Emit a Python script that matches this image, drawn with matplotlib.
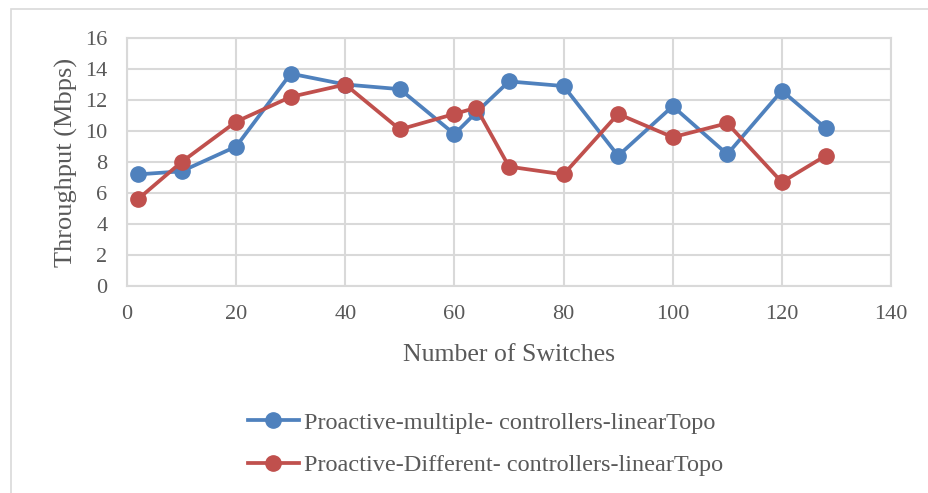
import matplotlib
matplotlib.use("Agg")
import matplotlib.pyplot as plt
from matplotlib.lines import Line2D
from matplotlib.patches import Rectangle

switches = [2, 10, 20, 30, 40, 50, 60, 64, 70, 80, 90, 100, 110, 120, 128]
multiple_ctrl = [7.2, 7.4, 9.0, 13.7, 13.0, 12.7, 9.8, 11.2, 13.2, 12.9, 8.4, 11.6, 8.5, 12.6, 10.2]
different_ctrl = [5.6, 8.0, 10.6, 12.2, 13.0, 10.1, 11.1, 11.5, 7.7, 7.2, 11.1, 9.6, 10.5, 6.7, 8.4]
series_names = ["Proactive-multiple- controllers-linearTopo",
                "Proactive-Different- controllers-linearTopo"]
x_ticks = [0, 20, 40, 60, 80, 100, 120, 140]
y_ticks = [0, 2, 4, 6, 8, 10, 12, 14, 16]

BLUE = "#4F81BD"
RED = "#C0504D"
GRID = "#D9D9D9"
TEXT = "#595959"

plt.rcParams["font.family"] = ["Liberation Serif", "DejaVu Serif"]

fig = plt.figure(figsize=(9.29, 4.93), dpi=100)
W, H = 929, 493

# chart frame
fig.patches.append(Rectangle((11 / W, -0.1), 1.2, 1 - 9 / H + 0.1,
                             transform=fig.transFigure, fill=False,
                             edgecolor=GRID, linewidth=1.2))

ax = fig.add_axes([127 / W, 1 - 286 / H, (891 - 127) / W, (286 - 38) / H])
ax.set_xlim(0, 140)
ax.set_ylim(0, 16)
ax.set_xticks(x_ticks)
ax.set_yticks(y_ticks)
ax.grid(True, color=GRID, linewidth=1.5)
ax.set_axisbelow(True)
for s in ax.spines.values():
    s.set_color(GRID)
    s.set_linewidth(1.5)
ax.tick_params(length=0, labelsize=16, labelcolor=TEXT)
ax.tick_params(axis="y", pad=14)
ax.tick_params(axis="x", pad=14)

ax.plot(switches, multiple_ctrl, color=BLUE, lw=2.7, marker="o", ms=11, zorder=3)
ax.plot(switches, different_ctrl, color=RED, lw=2.7, marker="o", ms=11, zorder=3)

ax.set_xlabel("Number of Switches", fontsize=18.5, color=TEXT, labelpad=14)
ax.set_ylabel("Throughput (Mbps)", fontsize=19, color=TEXT, labelpad=5)

handles = [Line2D([], [], color=BLUE, lw=2.7, marker="o", ms=11),
           Line2D([], [], color=RED, lw=2.7, marker="o", ms=11)]
leg = fig.legend(handles, series_names, loc="center left",
                 bbox_to_anchor=(226 / W, 1 - 444 / H),
                 frameon=False, fontsize=17.5, labelspacing=0.85, handlelength=2.1,
                 handletextpad=0.2)
for t in leg.get_texts():
    t.set_color(TEXT)

fig.savefig("out.png", dpi=100)
